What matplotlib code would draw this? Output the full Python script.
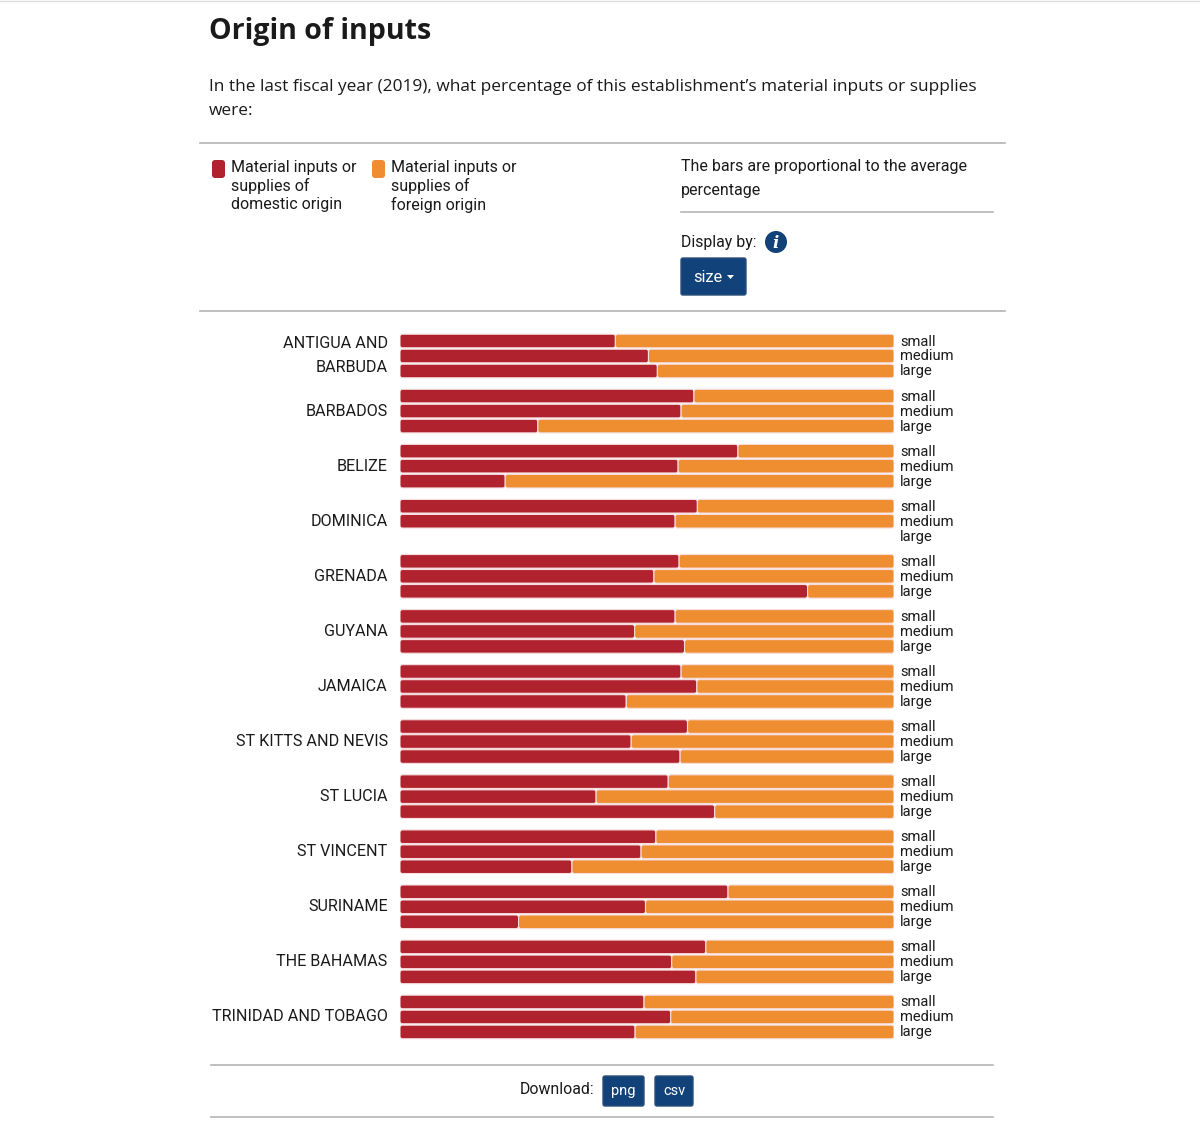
import matplotlib.pyplot as plt
import matplotlib.patches as patches

# Data: share (%) of material inputs of domestic origin, by country and firm size
countries = ['ANTIGUA AND\nBARBUDA', 'BARBADOS', 'BELIZE', 'DOMINICA', 'GRENADA',
             'GUYANA', 'JAMAICA', 'ST KITTS AND NEVIS', 'ST LUCIA', 'ST VINCENT',
             'SURINAME', 'THE BAHAMAS', 'TRINIDAD AND TOBAGO']
sizes = ['small', 'medium', 'large']
domestic_small = [43.6, 59.5, 68.4, 60.2, 56.5, 55.7, 56.9, 58.2, 54.3, 51.8, 66.4, 61.9, 49.4]
domestic_medium = [50.3, 56.9, 56.3, 55.7, 51.4, 47.5, 60.1, 46.8, 39.7, 48.8, 49.7, 55.0, 54.8]
domestic_large = [52.1, 27.9, 21.3, None, 82.5, 57.6, 45.8, 56.7, 63.7, 34.8, 24.0, 59.9, 47.6]

RED = '#b0222e'
ORANGE = '#ef8d31'
NAVY = '#11427a'
GRAY = '#b5b5b5'

W, H = 1200, 1146
fig = plt.figure(figsize=(W / 100, H / 100), dpi=100)

# background axes in pixel coordinates for page furniture
bg = fig.add_axes([0, 0, 1, 1])
bg.set_xlim(0, W)
bg.set_ylim(H, 0)
bg.axis('off')

bg.axhline(0.5, color='#dddddd', lw=1)
bg.text(209, 32, 'Origin of inputs', fontsize=20.6, fontweight='bold',
        family='Open Sans', color='#1a1a1a', va='center', ha='left')
bg.text(209, 87, 'In the last fiscal year (2019), what percentage of this establishment\u2019s material inputs or supplies',
        fontsize=12.4, family='Open Sans', color='#1a1a1a', va='center')
bg.text(209, 111, 'were:', fontsize=12.4, family='Open Sans', color='#1a1a1a', va='center')

for y, x0, x1 in [(143, 200, 1005), (311, 200, 1005), (212, 681, 993),
                  (1065, 211, 993), (1117, 211, 993)]:
    bg.plot([x0, x1], [y, y], color=GRAY, lw=1.2)

# legend
legend_items = [(211, RED, 'Material inputs or\nsupplies of\ndomestic origin'),
                (371, ORANGE, 'Material inputs or\nsupplies of\nforeign origin')]
for lx, col, lab in legend_items:
    bg.add_patch(patches.FancyBboxPatch((lx + 1, 160), 13, 18, boxstyle='round,pad=0,rounding_size=3',
                                        facecolor=col, edgecolor='none'))
    bg.text(lx + 20, 160, lab, fontsize=11.5, family='Roboto', color='#1a1a1a',
            va='top', ha='left', linespacing=1.22)

bg.text(681, 167, 'The bars are proportional to the average', fontsize=11.5, family='Roboto',
        color='#1a1a1a', va='center')
bg.text(681, 190, 'percentage', fontsize=11.5, family='Roboto', color='#1a1a1a', va='center')
bg.text(681, 242, 'Display by:', fontsize=11.4, family='Roboto', color='#1a1a1a', va='center')
bg.add_patch(patches.Circle((776, 242), 11, facecolor=NAVY, edgecolor='none'))
bg.text(776, 243, 'i', fontsize=12, fontweight='bold', style='italic', family='DejaVu Serif',
        color='white', ha='center', va='center')

# size dropdown button
bg.add_patch(patches.FancyBboxPatch((681, 258), 65, 37, boxstyle='round,pad=0,rounding_size=2',
                                    facecolor=NAVY, edgecolor='#2c4f7a', lw=1))
bg.text(708, 277, 'size', fontsize=11.8, family='Roboto', color='white', ha='center', va='center')
bg.add_patch(patches.Polygon([(727, 275), (734, 275), (730.5, 279)], closed=True,
                             facecolor='white', edgecolor='none'))

# download row
bg.text(594, 1089, 'Download:', fontsize=11.4, family='Roboto', color='#1a1a1a', ha='right', va='center')
for bx, bw, lab in [(603, 41, 'png'), (655, 38, 'csv')]:
    bg.add_patch(patches.FancyBboxPatch((bx, 1076), bw, 30, boxstyle='round,pad=0,rounding_size=2',
                                        facecolor=NAVY, edgecolor='#2c4f7a', lw=1))
    bg.text(bx + bw / 2, 1091, lab, fontsize=10.5, family='Roboto', color='white',
            ha='center', va='center')

# bar chart axes: 1 data unit on y == 1 pixel
top_px, bot_px = 326, 1046
ax = fig.add_axes([400 / W, 1 - bot_px / H, 494 / W, (bot_px - top_px) / H])
ax.set_xlim(0, 100)
ax.set_ylim(bot_px - top_px, 0)
ax.axis('off')

group_gap = 55.08
bar_gap = 15
first = 30
px_per_x = 494 / 100


def round_bars(container):
    # swap each plain bar for a rounded one with the same geometry
    for rect in container:
        x, y = rect.get_x(), rect.get_y()
        w, h = rect.get_width(), rect.get_height()
        fb = patches.FancyBboxPatch((x, y), w, h,
                                    boxstyle='round,pad=0,rounding_size=%.3f' % (2.5 / px_per_x),
                                    mutation_aspect=px_per_x,
                                    facecolor=rect.get_facecolor(), edgecolor='#f6dede',
                                    linewidth=0.8)
        rect.set_visible(False)
        ax.add_patch(fb)


series = [domestic_small, domestic_medium, domestic_large]
for j, vals in enumerate(series):
    ys, dom = [], []
    for i, v in enumerate(vals):
        if v is None:
            continue
        ys.append(first + i * group_gap + (j - 1) * bar_gap)
        dom.append(v)
    b1 = ax.barh(ys, dom, height=13.6, color=RED)
    b2 = ax.barh(ys, [100 - d for d in dom], left=dom, height=13.6, color=ORANGE)
    round_bars(b1)
    round_bars(b2)

for i, c in enumerate(countries):
    yc = first + i * group_gap
    ax.text(-2.5, yc, c, fontsize=11.6, family='Roboto', color='#1a1a1a',
            ha='right', va='center', linespacing=1.75)
    for j, s in enumerate(sizes):
        ax.text(101.2, yc + (j - 1) * bar_gap + 0.5, s, fontsize=10.6, family='Roboto',
                color='#1a1a1a', ha='left', va='center')

fig.savefig('out.png', dpi=100)
